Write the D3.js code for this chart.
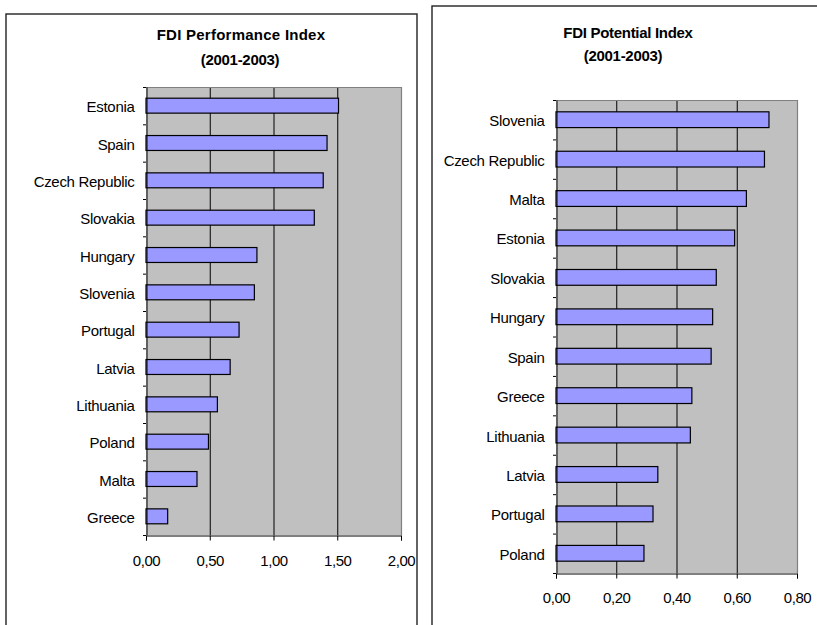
<!DOCTYPE html>
<html>
<head>
<meta charset="utf-8">
<script src="https://cdn.jsdelivr.net/npm/d3@7"></script>
<style>
  html, body { margin: 0; padding: 0; background: #fff; }
  svg { display: block; font-family: "Liberation Sans", Arial, sans-serif; }
</style>
</head>
<body>
<svg id="chart" width="817" height="625"></svg>
<script>
// FDI Performance Index (2001-2003)
const perfCountries = ["Estonia", "Spain", "Czech Republic", "Slovakia", "Hungary", "Slovenia",
  "Portugal", "Latvia", "Lithuania", "Poland", "Malta", "Greece"];
const perfValues = [1.51, 1.42, 1.39, 1.32, 0.87, 0.85, 0.73, 0.66, 0.56, 0.49, 0.40, 0.17];
const perfTicks = [0, 0.5, 1.0, 1.5, 2.0];

// FDI Potential Index (2001-2003)
const potCountries = ["Slovenia", "Czech Republic", "Malta", "Estonia", "Slovakia", "Hungary",
  "Spain", "Greece", "Lithuania", "Latvia", "Portugal", "Poland"];
const potValues = [0.707, 0.692, 0.632, 0.593, 0.532, 0.520, 0.515, 0.451, 0.446, 0.338, 0.322, 0.292];
const potTicks = [0, 0.2, 0.4, 0.6, 0.8];

const titles = [
  ["FDI Performance Index", "(2001-2003)"],
  ["FDI Potential Index", "(2001-2003)"]
];

// decimal comma tick labels
const fmt = d3.formatLocale({ decimal: ",", thousands: ".", grouping: [3], currency: ["", "€"] }).format(".2f");

const svg = d3.select("#chart");

// panel frames (they run off the bottom / right edge)
svg.append("rect").attr("x", 6).attr("y", 14).attr("width", 411).attr("height", 700)
  .attr("fill", "#fff").attr("stroke", "#222").attr("stroke-width", 1.4);
svg.append("rect").attr("x", 432).attr("y", 6).attr("width", 500).attr("height", 700)
  .attr("fill", "#fff").attr("stroke", "#222").attr("stroke-width", 1.4);

function drawPanel(opts) {
  const { countries, values, ticks, domainMax, left, right, top, bottom,
          title, titleX, titleY1, titleY2, titleSpacing, tickLabelDy, labelDy } = opts;
  const g = svg.append("g");

  const x = d3.scaleLinear().domain([0, domainMax]).range([left, right]);
  const y = d3.scaleBand().domain(countries).range([top, bottom]).padding(0);
  const barH = y.bandwidth() / 2.5;

  // plot background
  g.append("rect").attr("x", left).attr("y", top)
    .attr("width", right - left).attr("height", bottom - top)
    .attr("fill", "#c0c0c0");

  // vertical gridlines
  g.selectAll(".grid").data(ticks.slice(1, -1)).join("line")
    .attr("x1", d => x(d) + 0.5).attr("x2", d => x(d) + 0.5)
    .attr("y1", top).attr("y2", bottom)
    .attr("stroke", "#000").attr("stroke-width", 1);

  // top and right border of the plot area
  g.append("path")
    .attr("d", `M${left},${top + 0.5}H${right + 0.5}V${bottom}`)
    .attr("fill", "none").attr("stroke", "#808080").attr("stroke-width", 1.2);

  // bars
  g.selectAll(".bar").data(countries).join("rect")
    .attr("x", x(0))
    .attr("y", (d) => y(d) + (y.bandwidth() - barH) / 2)
    .attr("width", (d, i) => x(values[i]) - x(0))
    .attr("height", barH)
    .attr("fill", "#9999ff").attr("stroke", "#000").attr("stroke-width", 1.2);

  // category axis
  const yAxis = d3.axisLeft(y).tickSize(0).tickPadding(12);
  const ya = g.append("g").attr("transform", `translate(${left + 0.5},0)`).call(yAxis);
  ya.select(".domain").attr("stroke", "#000");
  ya.selectAll("text").attr("font-size", 15).attr("letter-spacing", -0.3).attr("fill", "#000")
    .attr("dy", null).attr("y", labelDy);
  // category separator ticks
  const bounds = d3.range(countries.length + 1).map(i => top + i * y.step());
  g.selectAll(".ctick").data(bounds).join("line")
    .attr("x1", left - 3).attr("x2", left)
    .attr("y1", d => d + 0.5).attr("y2", d => d + 0.5)
    .attr("stroke", "#000");

  // value axis
  const xAxis = d3.axisBottom(x).tickValues(ticks).tickFormat(fmt).tickSize(5).tickPadding(0);
  const xa = g.append("g").attr("transform", `translate(0,${bottom + 0.5})`).call(xAxis);
  xa.select(".domain").attr("stroke", "#000");
  xa.selectAll(".tick line").attr("stroke", "#000");
  xa.selectAll("text").attr("font-size", 15).attr("letter-spacing", -0.4).attr("fill", "#000")
    .attr("dy", null).attr("y", tickLabelDy);

  // title
  const t = g.append("text").attr("text-anchor", "middle")
    .attr("font-weight", "bold").attr("font-size", 15).attr("fill", "#000");
  t.append("tspan").attr("x", titleX[0]).attr("y", titleY1)
    .attr("letter-spacing", titleSpacing).text(title[0]);
  t.append("tspan").attr("x", titleX[1]).attr("y", titleY2)
    .attr("letter-spacing", -0.3).text(title[1]);
}

drawPanel({
  countries: perfCountries, values: perfValues, ticks: perfTicks, domainMax: 2,
  left: 146, right: 401, top: 87, bottom: 535,
  title: titles[0], titleX: [241, 240], titleY1: 39.5, titleY2: 64.5, titleSpacing: 0.25,
  tickLabelDy: 30, labelDy: 6.5
});

drawPanel({
  countries: potCountries, values: potValues, ticks: potTicks, domainMax: 0.8,
  left: 556, right: 797, top: 100, bottom: 573,
  title: titles[1], titleX: [628, 623], titleY1: 37.5, titleY2: 60.5, titleSpacing: -0.3,
  tickLabelDy: 29, labelDy: 6.5
});
</script>
</body>
</html>
